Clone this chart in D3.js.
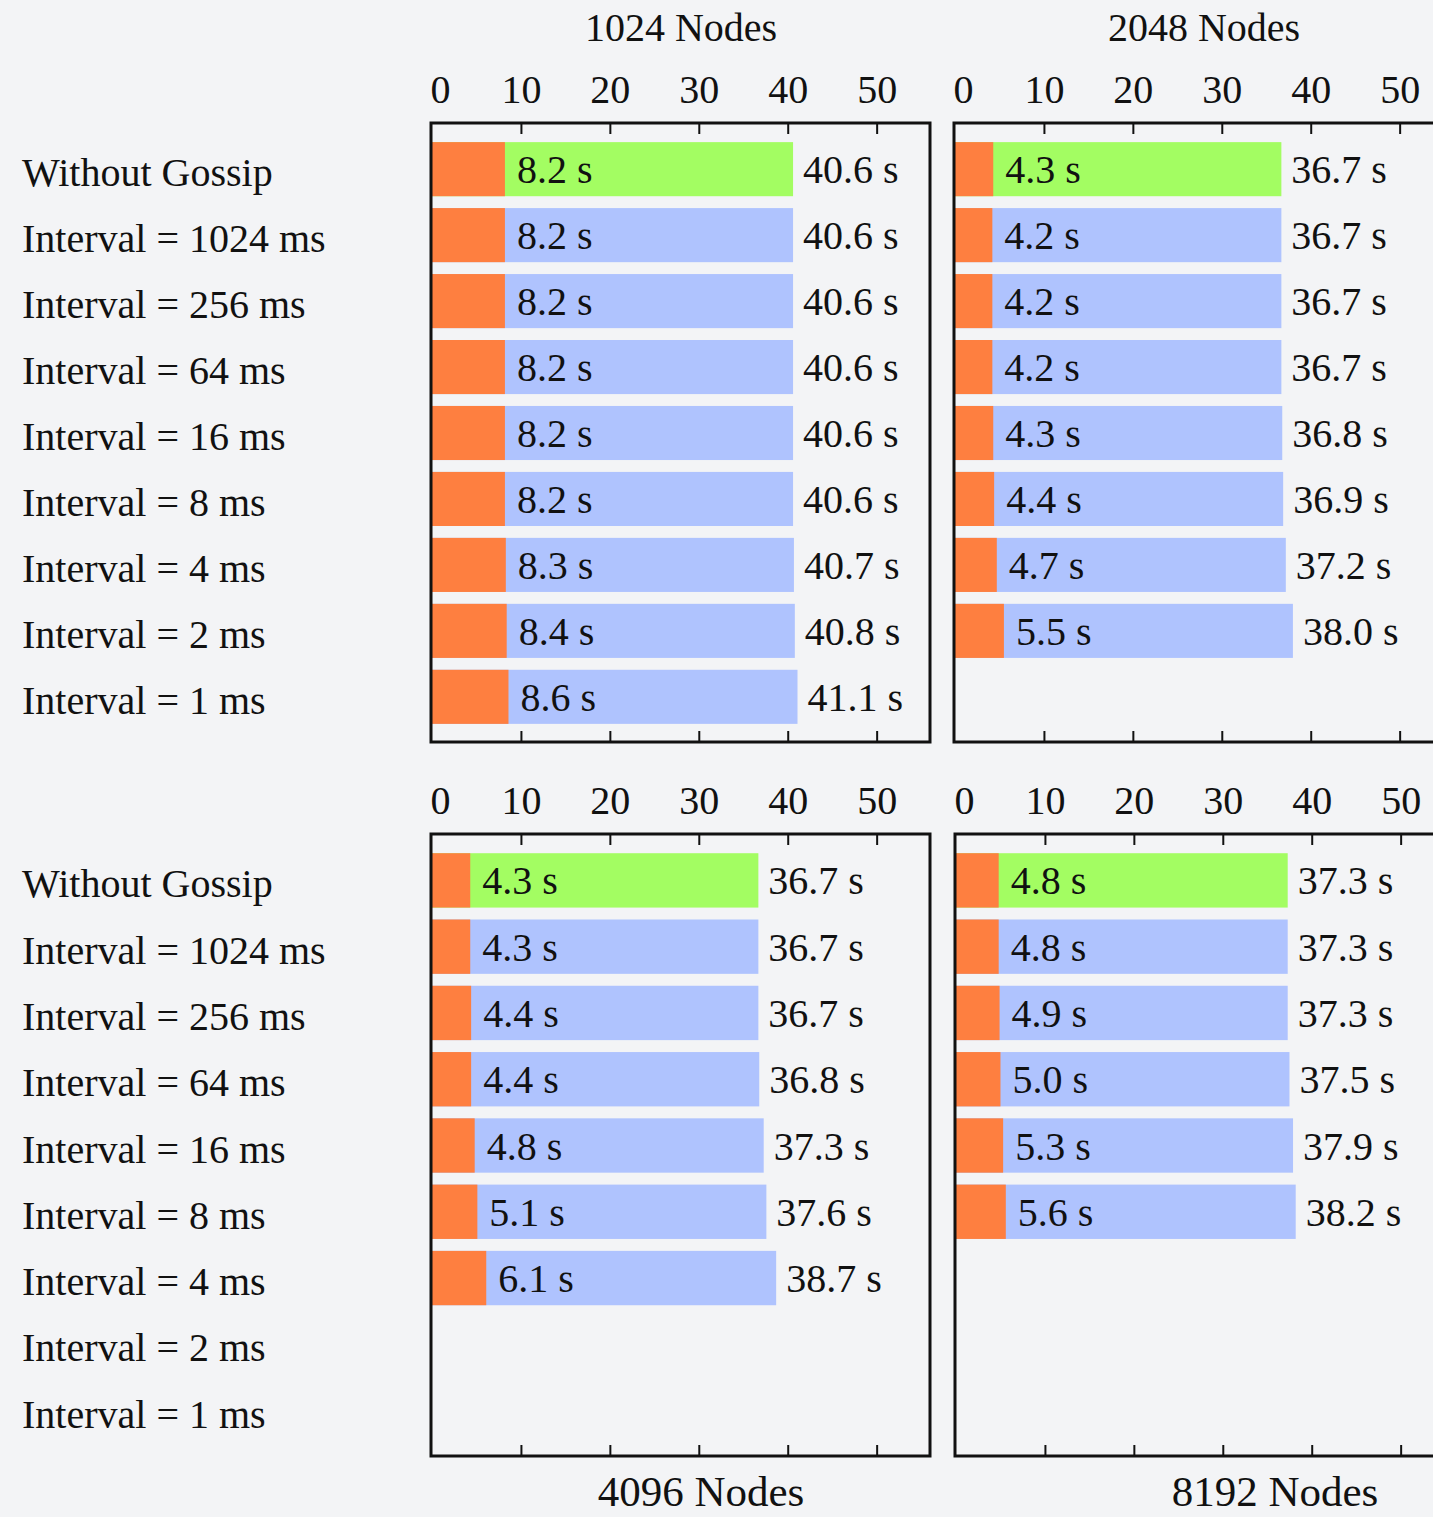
<!DOCTYPE html>
<html>
<head>
<meta charset="utf-8">
<script src="https://cdn.jsdelivr.net/npm/d3@7/dist/d3.min.js"></script>
<style>
  html, body { margin: 0; padding: 0; background: #f3f4f6; }
  svg { display: block; }
  text { font-family: "Liberation Serif", "Times New Roman", serif; fill: #111; }
</style>
</head>
<body>
<svg id="chart" width="1433" height="1517"></svg>
<script>
// Row labels shared by all four panels
const rowLabels = [
  "Without Gossip",
  "Interval = 1024 ms",
  "Interval = 256 ms",
  "Interval = 64 ms",
  "Interval = 16 ms",
  "Interval = 8 ms",
  "Interval = 4 ms",
  "Interval = 2 ms",
  "Interval = 1 ms"
];

// Panel titles
const panelTitles = ["1024 Nodes", "2048 Nodes", "4096 Nodes", "8192 Nodes"];

// First phase (seconds), drawn in orange
const phase1024 = [8.2, 8.2, 8.2, 8.2, 8.2, 8.2, 8.3, 8.4, 8.6];
const phase2048 = [4.3, 4.2, 4.2, 4.2, 4.3, 4.4, 4.7, 5.5];
const phase4096 = [4.3, 4.3, 4.4, 4.4, 4.8, 5.1, 6.1];
const phase8192 = [4.8, 4.8, 4.9, 5.0, 5.3, 5.6];

// Total time (seconds)
const total1024 = [40.6, 40.6, 40.6, 40.6, 40.6, 40.6, 40.7, 40.8, 41.1];
const total2048 = [36.7, 36.7, 36.7, 36.7, 36.8, 36.9, 37.2, 38.0];
const total4096 = [36.7, 36.7, 36.7, 36.8, 37.3, 37.6, 38.7];
const total8192 = [37.3, 37.3, 37.3, 37.5, 37.9, 38.2];

// Axis ticks
const tickValues = [0, 10, 20, 30, 40, 50];
const xMax = 56;

const colors = { first: "#fe7f40", baseline: "#a3fd62", rest: "#afc3fe", frame: "#111" };

const panels = [
  { title: panelTitles[0], phase: phase1024, total: total1024, x0: 432, y0: 123, h: 620, titleX: 681, titleY: 41, titleSize: 40 },
  { title: panelTitles[1], phase: phase2048, total: total2048, x0: 955, y0: 123, h: 620, titleX: 1204, titleY: 41, titleSize: 40 },
  { title: panelTitles[2], phase: phase4096, total: total4096, x0: 432, y0: 834, h: 623, titleX: 701, titleY: 1506, titleSize: 43 },
  { title: panelTitles[3], phase: phase8192, total: total8192, x0: 956, y0: 834, h: 623, titleX: 1275, titleY: 1506, titleSize: 43 }
];

const panelW = 498;
const svg = d3.select("#chart");

panels.forEach((p, pi) => {
  const x = d3.scaleLinear().domain([0, xMax]).range([p.x0, p.x0 + panelW]);
  const y = d3.scaleBand().domain(rowLabels).range([p.y0, p.y0 + p.h])
    .paddingInner(0.18).paddingOuter(0.29);

  const g = svg.append("g");

  // bars: full length first, then the first phase on top
  const rows = p.total.map((t, i) => ({ label: rowLabels[i], total: t, phase: p.phase[i], i }));

  g.selectAll("rect.total").data(rows).enter().append("rect")
    .attr("x", d => x(0))
    .attr("y", d => y(d.label))
    .attr("width", d => x(d.total) - x(0))
    .attr("height", y.bandwidth())
    .attr("fill", d => d.i === 0 ? colors.baseline : colors.rest);

  g.selectAll("rect.phase").data(rows).enter().append("rect")
    .attr("x", d => x(0))
    .attr("y", d => y(d.label))
    .attr("width", d => x(d.phase) - x(0))
    .attr("height", y.bandwidth())
    .attr("fill", colors.first);

  g.selectAll("text.phase").data(rows).enter().append("text")
    .attr("x", d => x(d.phase) + 12)
    .attr("y", d => y(d.label) + y.bandwidth() / 2)
    .attr("dy", "0.35em")
    .attr("font-size", 40)
    .text(d => d.phase.toFixed(1) + " s");

  g.selectAll("text.total").data(rows).enter().append("text")
    .attr("x", d => x(d.total) + 10)
    .attr("y", d => y(d.label) + y.bandwidth() / 2)
    .attr("dy", "0.35em")
    .attr("font-size", 40)
    .text(d => d.total.toFixed(1) + " s");

  // frame
  g.append("rect")
    .attr("x", p.x0 - 1).attr("y", p.y0)
    .attr("width", panelW + 1).attr("height", p.h - 1)
    .attr("fill", "none").attr("stroke", colors.frame).attr("stroke-width", 3);

  // tick labels above the frame
  const labelAxis = svg.append("g")
    .attr("transform", `translate(0,${p.y0})`)
    .call(d3.axisTop(x).tickValues(tickValues).tickSize(0).tickPadding(20).tickFormat(d3.format("d")));
  labelAxis.select(".domain").remove();
  labelAxis.selectAll("text")
    .attr("font-size", 40).attr("font-family", null).attr("fill", "#111")
    .filter(d => d === 0).attr("text-anchor", "start").attr("dx", -2);

  // inward tick marks on top and bottom edges
  const tickMarks = tickValues.filter(v => v > 0);
  const topTicks = svg.append("g")
    .attr("transform", `translate(0,${p.y0})`)
    .call(d3.axisTop(x).tickValues(tickMarks).tickSize(-11).tickFormat(""));
  const botTicks = svg.append("g")
    .attr("transform", `translate(0,${p.y0 + p.h - 1})`)
    .call(d3.axisBottom(x).tickValues(tickMarks).tickSize(-11).tickFormat(""));
  [topTicks, botTicks].forEach(a => {
    a.select(".domain").remove();
    a.selectAll("line").attr("stroke", colors.frame).attr("stroke-width", 2);
  });

  // panel title
  svg.append("text")
    .attr("x", p.titleX).attr("y", p.titleY)
    .attr("text-anchor", "middle")
    .attr("font-size", p.titleSize)
    .text(p.title);

  // row labels on the left for each panel row
  if (pi % 2 === 0) {
    svg.append("g").selectAll("text").data(rowLabels).enter().append("text")
      .attr("x", 22)
      .attr("y", d => y(d) + y.bandwidth() / 2 + 3)
      .attr("dy", "0.35em")
      .attr("font-size", 40)
      .text(d => d);
  }
});
</script>
</body>
</html>
